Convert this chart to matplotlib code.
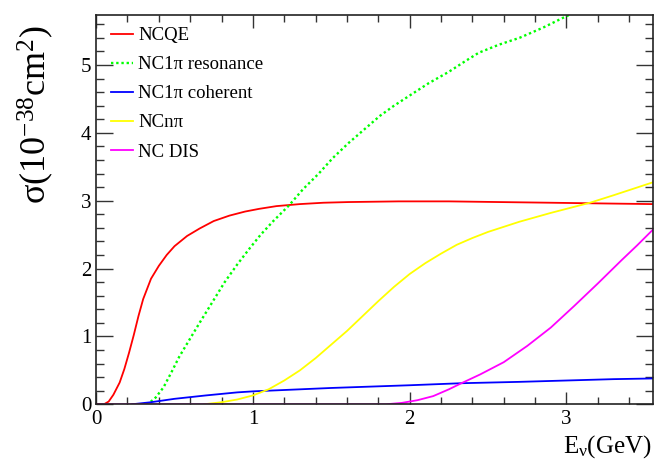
import matplotlib
matplotlib.use("Agg")
import matplotlib.pyplot as plt
from matplotlib.ticker import MultipleLocator

plt.rcParams['font.family'] = ['Liberation Serif', 'DejaVu Serif']
plt.rcParams['mathtext.fontset'] = 'custom'
plt.rcParams['mathtext.rm'] = 'Liberation Serif'
plt.rcParams['mathtext.it'] = 'Liberation Serif:italic'

# NCQE
qe_x = [0.0, 0.05, 0.08, 0.11, 0.15, 0.18, 0.21, 0.24, 0.27, 0.30, 0.35, 0.40, 0.45, 0.50, 0.58, 0.66, 0.75, 0.85, 0.95, 1.04, 1.15, 1.30, 1.45, 1.61, 1.93, 2.25, 2.57, 2.9, 3.21, 3.55]
qe_y = [0.0, 0.0, 0.04, 0.14, 0.32, 0.52, 0.76, 1.02, 1.30, 1.55, 1.85, 2.04, 2.20, 2.33, 2.48, 2.59, 2.70, 2.78, 2.84, 2.88, 2.92, 2.95, 2.97, 2.98, 2.99, 2.99, 2.98, 2.97, 2.96, 2.95]
# NC1pi resonance
res_x = [0.32, 0.34, 0.38, 0.43, 0.48, 0.53, 0.60, 0.66, 0.74, 0.82, 0.90, 0.98, 1.05, 1.13, 1.23, 1.32, 1.42, 1.51, 1.61, 1.71, 1.81, 1.90, 2.0, 2.12, 2.25, 2.35, 2.44, 2.57, 2.70, 2.85, 3.0, 3.08]
res_y = [0.0, 0.02, 0.10, 0.25, 0.47, 0.70, 0.97, 1.20, 1.50, 1.80, 2.06, 2.30, 2.50, 2.70, 2.93, 3.17, 3.40, 3.63, 3.85, 4.05, 4.25, 4.40, 4.55, 4.73, 4.90, 5.05, 5.18, 5.30, 5.40, 5.55, 5.72, 5.80]
# NC1pi coherent
coh_x = [0.23, 0.35, 0.5, 0.7, 0.9, 1.0, 1.2, 1.5, 2.0, 2.33, 2.7, 3.0, 3.3, 3.55]
coh_y = [0.0, 0.03, 0.08, 0.13, 0.175, 0.19, 0.21, 0.24, 0.28, 0.31, 0.33, 0.35, 0.37, 0.38]
# NCn pi
npi_x = [0.69, 0.8, 0.9, 1.0, 1.1, 1.2, 1.3, 1.4, 1.5, 1.6, 1.7, 1.8, 1.9, 2.0, 2.1, 2.2, 2.3, 2.4, 2.5, 2.7, 2.9, 3.15, 3.3, 3.55]
npi_y = [0.0, 0.03, 0.07, 0.13, 0.22, 0.35, 0.50, 0.68, 0.88, 1.08, 1.30, 1.52, 1.73, 1.92, 2.08, 2.22, 2.35, 2.45, 2.54, 2.69, 2.82, 2.97, 3.08, 3.27]
# NC DIS
dis_x = [0.0, 1.85, 1.95, 2.05, 2.15, 2.25, 2.33, 2.45, 2.6, 2.75, 2.9, 3.05, 3.2, 3.35, 3.45, 3.55]
dis_y = [0.0, 0.0, 0.02, 0.06, 0.12, 0.22, 0.31, 0.44, 0.62, 0.86, 1.13, 1.45, 1.78, 2.12, 2.34, 2.57]

labels = ['NCQE', r'NC1π resonance', r'NC1π coherent', r'NCnπ', 'NC DIS']

fig = plt.figure(figsize=(6.54, 4.62), dpi=100)
ax = fig.add_axes([0.147, 0.125, 0.851, 0.843])

lw = 1.3
ax.plot(qe_x, qe_y, color='#ff0000', lw=lw, label=labels[0])
ax.plot(res_x, res_y, color='#00ff00', lw=lw + 0.4, ls=(0, (1, 1.2)), label=labels[1])
ax.plot(coh_x, coh_y, color='#0000ff', lw=lw, label=labels[2])
ax.plot(npi_x, npi_y, color='#ffff00', lw=lw, label=labels[3])
ax.plot(dis_x, dis_y, color='#ff00ff', lw=lw, label=labels[4])

ax.set_xlim(0, 3.55)
ax.set_ylim(0, 5.74)
ax.xaxis.set_major_locator(MultipleLocator(1))
ax.xaxis.set_minor_locator(MultipleLocator(0.2))
ax.yaxis.set_major_locator(MultipleLocator(1))
ax.yaxis.set_minor_locator(MultipleLocator(0.2))
ax.tick_params(which='both', direction='in', top=True, right=True, labelsize=15, width=1, color='#333333')
ax.tick_params(axis='y', which='major', length=12)
ax.tick_params(axis='y', which='minor', length=6)
ax.tick_params(axis='x', which='major', length=9)
ax.tick_params(axis='x', which='minor', length=5)
ax.tick_params(axis='x', pad=4)
for s in ax.spines.values():
    s.set_linewidth(1.2)
    s.set_color('#222222')

fig.text(0.054, 0.945, 'σ(10$^{\\mathrm{-38}}$cm$^{\\mathrm{2}}$)', rotation=90, ha='center', va='top', fontsize=26)
fig.text(0.997, 0.005, 'E$_{\\mathrm{ν}}$(GeV)', ha='right', va='bottom', fontsize=18)

leg = ax.legend(loc='upper left', frameon=False, fontsize=13.5, handlelength=1.15,
                handletextpad=0.3, labelspacing=0.64, borderaxespad=0.25,
                bbox_to_anchor=(0.005, 1.0))

fig.savefig('out.png', dpi=100)
